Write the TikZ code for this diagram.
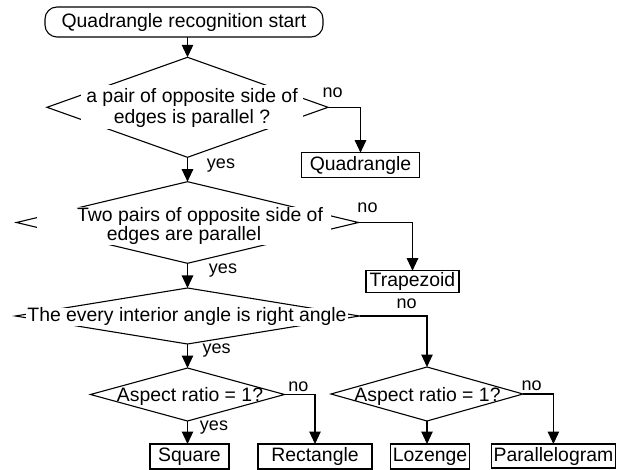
\documentclass[tikz,border=0pt]{standalone}
\usepackage{fontspec}
\setmainfont{Liberation Sans}
\usetikzlibrary{shapes.geometric,arrows.meta}
\begin{document}
\begin{tikzpicture}[x=1pt,y=-1pt,
  every node/.style={inner sep=0pt,outer sep=0pt},
  ln/.style={line width=1.1pt},
  arr/.style={ln,-{Triangle[length=12.5pt,width=11.5pt]}},
  dia/.style={shape=diamond,draw,line width=1.1pt},
  mainfont/.style={font=\fontsize{19.4}{21}\selectfont},
  dtext/.style={mainfont,fill=white,align=center},
  boxnode/.style={draw,line width=1.1pt,mainfont},
  lbl/.style={font=\fontsize{18}{20}\selectfont},
]
\useasboundingbox (0,0) rectangle (621,470);
\fill[white] (0,0) rectangle (621,470);

% start
\node[boxnode,rounded corners=12pt,minimum width=278pt,minimum height=30pt] (start) at (184,22) {Quadrangle recognition start};

% decisions
\node[dia,minimum width=281pt,minimum height=100pt] (d1) at (187.5,107.3) {};
\node[dtext,minimum width=222pt,minimum height=44pt] (t1) at (192,107.5) {a pair of opposite side of\\edges is parallel ?};

\node[dia,minimum width=342pt,minimum height=81.6pt] (d2) at (187.5,222.5) {};
\node[dtext,minimum width=294pt,minimum height=38pt] (t2) at (184,226) {\hspace*{32pt}Two pairs of opposite side of\\[-2pt]edges are parallel};

\node[dia,minimum width=344pt,minimum height=56pt] (d3) at (187.5,316) {};
\node[dtext,minimum width=322pt] (t3) at (187,316.7) {The every interior angle is right angle};

\node[dia,minimum width=194pt,minimum height=53pt] (d4) at (187.5,394.5) {};
\node[mainfont] (t4) at (190,396.7) {Aspect ratio = 1?};

\node[dia,minimum width=192pt,minimum height=54pt] (d5) at (427,394) {};
\node[mainfont] (t5) at (427.5,396.7) {Aspect ratio = 1?};

% result boxes
\node[boxnode,minimum width=117.6pt,minimum height=25pt] (quad) at (360.5,165.2) {Quadrangle};
\node[boxnode,minimum width=93pt,minimum height=22pt] (trap) at (412.5,281.7) {Trapezoid};
\node[boxnode,minimum width=79pt,minimum height=25pt] (sq) at (189.5,456.5) {Square};
\node[boxnode,minimum width=114pt,minimum height=25pt] (rect) at (315,456.5) {Rectangle};
\node[boxnode,minimum width=78.6pt,minimum height=25pt] (loz) at (430,456.5) {Lozenge};
\node[boxnode,minimum width=123.3pt,minimum height=24pt] (par) at (553.4,456) {Parallelogram};

% connectors
\draw[arr] (d1.north |- start.south) -- (d1.north);
\draw[arr] (d1.south) -- (d2.north);
\draw[arr] (d2.south) -- (d3.north);
\draw[arr] (d3.south) -- (d4.north);
\draw[arr] (d4.south) -- (d4.south |- sq.north);
\draw[arr] (d1.east) -| (quad.north);
\draw[arr] (d2.east) -| (trap.north);
\draw[arr] (d3.east) -| (d5.north);
\draw[arr] (d4.east) -| (rect.north);
\draw[arr] (d5.south) -- (d5.south |- loz.north);
\draw[arr] (d5.east) -| (par.north);

% labels
\node[lbl] (n1) at (332.7,92.5) {no};
\node[lbl] (y1) at (221,166) {yes};
\node[lbl] (n2) at (367.5,208) {no};
\node[lbl] (y2) at (223,271) {yes};
\node[lbl] (n3) at (406.7,304) {no};
\node[lbl] (y3) at (216.7,351) {yes};
\node[lbl] (n4) at (298.3,386.7) {no};
\node[lbl] (y4) at (214,427.5) {yes};
\node[lbl] (n5) at (531.7,385.3) {no};
\end{tikzpicture}
\end{document}
